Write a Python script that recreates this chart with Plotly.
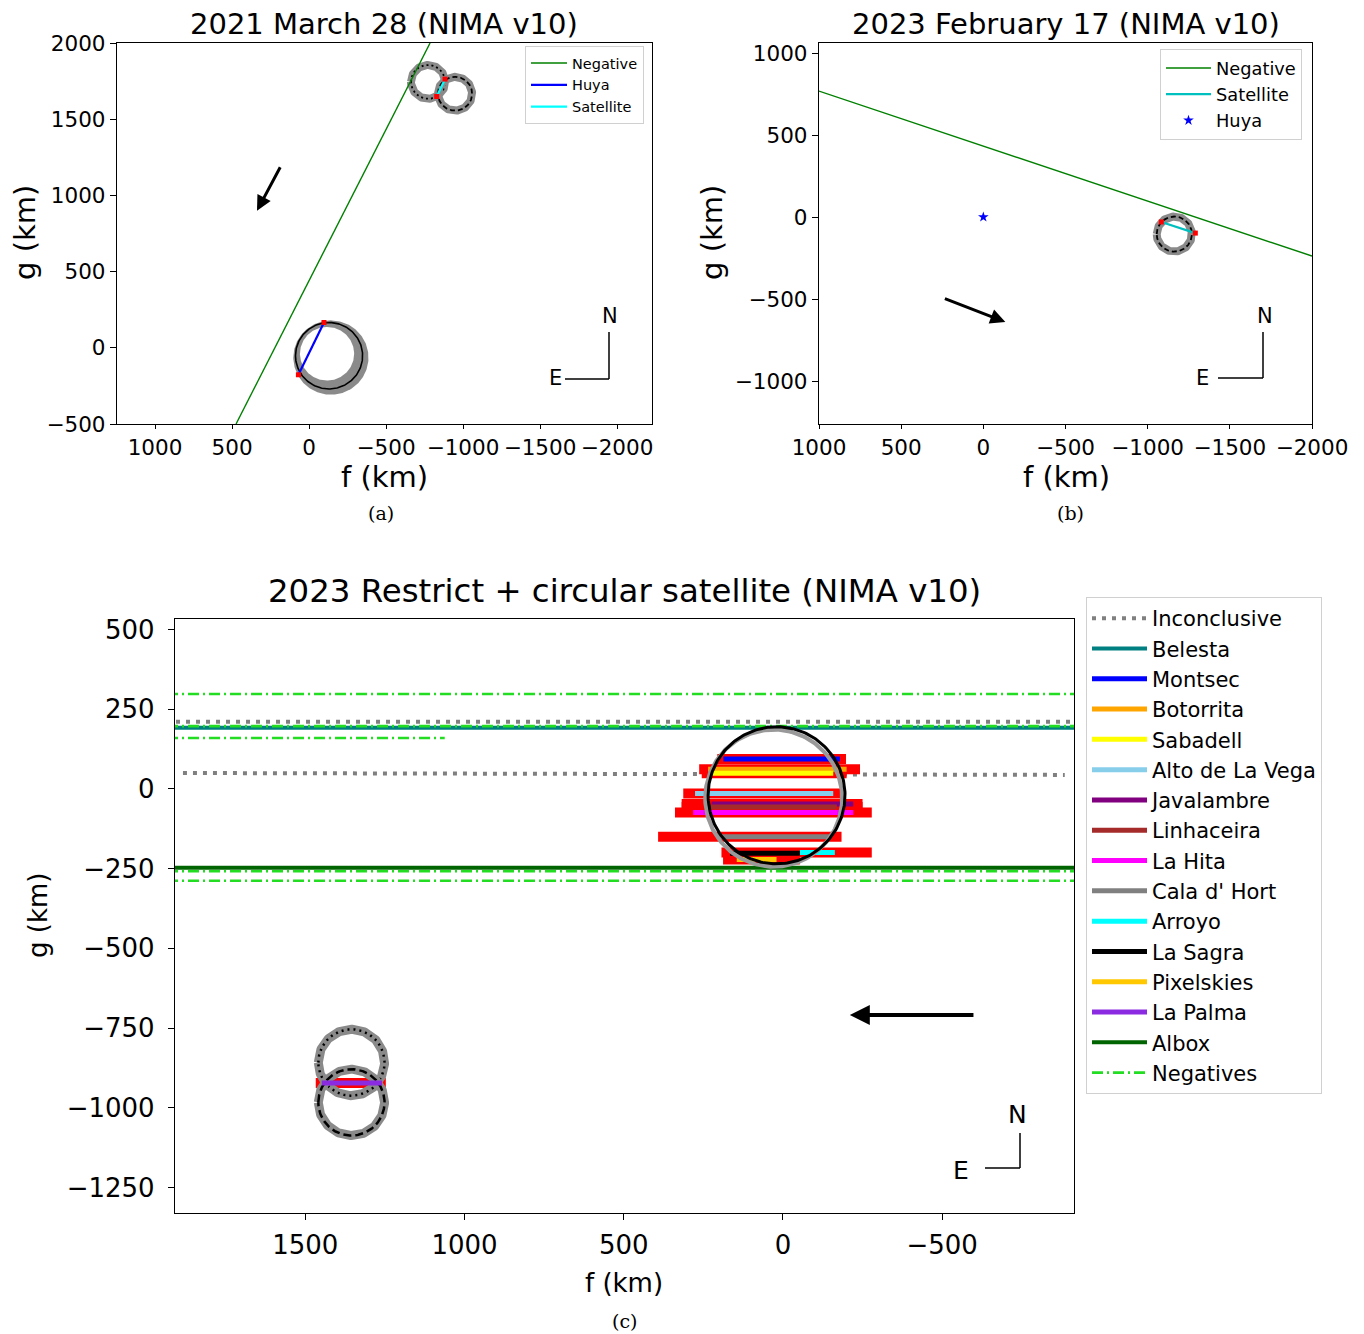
import numpy as np
import plotly.graph_objects as go

W, H = 1364, 1334
FONT = "DejaVu Sans"

# ---------------- Panel (a): 2021 March 28 ----------------
a_neg_f = [474, -786]
a_neg_g = [-500, 2000]
a_huya_chord_f = [-97, 69]
a_huya_chord_g = [166, -177]
a_sat_chord_f = [-829, -883]
a_sat_chord_g = [1649, 1763]
a_huya_circle = (-130, -52, 218)          # f, g, radius
a_huya_band_outer = (-142, -64, 244)
a_huya_band_inner = (-117, -39, 176)
a_sat_dotted = (-773, 1745, 111)
a_sat_dashed = (-948, 1667, 111)
a_arrow_tail = (182, 1194)
a_arrow_head = (338, 899)
a_xticks = [1000, 500, 0, -500, -1000, -1500, -2000]
a_yticks = [-500, 0, 500, 1000, 1500, 2000]

# ---------------- Panel (b): 2023 February 17 ----------------
b_neg_f = [1000, -2000]
b_neg_g = [768, -238]
b_huya_f = [0]
b_huya_g = [0]
b_sat_chord_f = [-1083, -1290]
b_sat_chord_g = [-30, -98]
b_sat_circle = (-1162, -104, 107)
b_arrow_tail = (243, -494)
b_arrow_head = (-134, -640)
b_xticks = [1000, 500, 0, -500, -1000, -1500, -2000]
b_yticks = [-1000, -500, 0, 500, 1000]

# ---------------- Panel (c): 2023 restrict ----------------
c_inconcl_f = [[2000, -1000], [1884, -885]]
c_inconcl_g = [[211, 211], [50, 44]]
c_neg_f = [[2000, -1000], [2000, -1000], [2000, 1062], [2000, -1000], [2000, -1000]]
c_neg_g = [298, 197, 160, -258, -288]
c_belesta_g = 192
c_albox_g = -247

chord_names = ["Montsec", "Botorrita", "Sabadell", "Alto de La Vega", "Javalambre",
               "Linhaceira", "La Hita", "Cala d' Hort", "Arroyo", "La Sagra",
               "Pixelskies", "La Palma"]
chord_g = [94, 62, 49, -14, -47, -57, -74, -150, -199, -202, -221, -922]
chord_f1 = [187, 235, 229, 276, 224, 240, 282, 208, -53, 166, 145, 1448]
chord_f2 = [-179, -200, -158, -158, -221, -169, -221, -148, -163, -53, 20, 1259]
err_f1 = [206, 263, 255, 313, 318, 318, 339, 392, 193, None, 188, 1467]
err_f2 = [-198, -242, -200, -184, -250, -250, -279, -184, -279, None, -53, 1247]
chord_colors = ["#0000ff", "#ffa500", "#ffff00", "#87ceeb", "#800080", "#a52a2a",
                "#ff00ff", "#808080", "#00ffff", "#000000", "#ffc800", "#8a2be2"]

c_main_circle = (20, -20, 215)
c_sat_dotted = (1355, -858, 104)
c_sat_dashed = (1355, -983, 104)
c_arrow_tail = (-603, -709)
c_arrow_head = (-210, -709)
c_xticks = [1500, 1000, 500, 0, -500]
c_yticks = [-1250, -1000, -750, -500, -250, 0, 250, 500]

legend_c_order = ["Inconclusive", "Belesta", "Montsec", "Botorrita", "Sabadell",
                  "Alto de La Vega", "Javalambre", "Linhaceira", "La Hita",
                  "Cala d' Hort", "Arroyo", "La Sagra", "Pixelskies", "La Palma",
                  "Albox", "Negatives"]


def circ(c, n=241):
    fc, gc, r = c
    t = np.linspace(0, 2 * np.pi, n)
    return (fc + r * np.cos(t)).tolist(), (gc + r * np.sin(t)).tolist()


def lab(v):
    return str(v).replace("-", "\u2212")


fig = go.Figure()

# ===== panel (a) traces =====
fx, fy = circ(a_huya_band_outer)
fig.add_trace(go.Scatter(x=fx, y=fy, fill="toself", fillcolor="#8a8a8a", mode="lines",
                         line=dict(width=0, color="#8a8a8a"), showlegend=False, hoverinfo="skip"))
fx, fy = circ(a_huya_band_inner)
fig.add_trace(go.Scatter(x=fx, y=fy, fill="toself", fillcolor="white", mode="lines",
                         line=dict(width=0, color="white"), showlegend=False, hoverinfo="skip"))
fx, fy = circ(a_huya_circle)
fig.add_trace(go.Scatter(x=fx, y=fy, mode="lines", line=dict(width=1.6, color="black"),
                         showlegend=False, hoverinfo="skip"))
for c, dash in [(a_sat_dotted, "2px,3px"), (a_sat_dashed, "5px,3px")]:
    fx, fy = circ(c)
    fig.add_trace(go.Scatter(x=fx, y=fy, mode="lines", line=dict(width=8, color="#8a8a8a"),
                             showlegend=False, hoverinfo="skip"))
    fig.add_trace(go.Scatter(x=fx, y=fy, mode="lines", line=dict(width=1.8, color="black", dash=dash),
                             showlegend=False, hoverinfo="skip"))
fig.add_trace(go.Scatter(x=a_neg_f, y=a_neg_g, mode="lines", name="Negative",
                         line=dict(width=1.4, color="green"), legend="legend"))
fig.add_trace(go.Scatter(x=a_huya_chord_f, y=a_huya_chord_g, mode="lines", name="Huya",
                         line=dict(width=2.2, color="#0000ff"), legend="legend"))
fig.add_trace(go.Scatter(x=a_sat_chord_f, y=a_sat_chord_g, mode="lines", name="Satellite",
                         line=dict(width=2.2, color="#00ffff"), legend="legend"))
fig.add_trace(go.Scatter(x=a_huya_chord_f + a_sat_chord_f, y=a_huya_chord_g + a_sat_chord_g,
                         mode="markers", marker=dict(symbol="square", size=5, color="red"),
                         showlegend=False, hoverinfo="skip"))

# ===== panel (b) traces =====
fx, fy = circ(b_sat_circle)
fig.add_trace(go.Scatter(x=fx, y=fy, mode="lines", line=dict(width=8, color="#8a8a8a"),
                         xaxis="x2", yaxis="y2", showlegend=False, hoverinfo="skip"))
fig.add_trace(go.Scatter(x=fx, y=fy, mode="lines", line=dict(width=1.8, color="black", dash="5px,3px"),
                         xaxis="x2", yaxis="y2", showlegend=False, hoverinfo="skip"))
fig.add_trace(go.Scatter(x=b_neg_f, y=b_neg_g, mode="lines", name="Negative",
                         line=dict(width=1.4, color="green"), xaxis="x2", yaxis="y2", legend="legend2"))
fig.add_trace(go.Scatter(x=b_sat_chord_f, y=b_sat_chord_g, mode="lines", name="Satellite",
                         line=dict(width=2.2, color="#00bfbf"), xaxis="x2", yaxis="y2", legend="legend2"))
fig.add_trace(go.Scatter(x=b_huya_f, y=b_huya_g, mode="markers", name="Huya",
                         marker=dict(symbol="star", size=8, color="#0000ff"),
                         xaxis="x2", yaxis="y2", legend="legend2"))
fig.add_trace(go.Scatter(x=b_sat_chord_f, y=b_sat_chord_g, mode="markers",
                         marker=dict(symbol="square", size=5, color="red"),
                         xaxis="x2", yaxis="y2", showlegend=False, hoverinfo="skip"))

# ===== panel (c) traces =====
C = dict(xaxis="x3", yaxis="y3", legend="legend3")
rank = {n: i for i, n in enumerate(legend_c_order)}

ix, iy = [], []
for f, g in zip(c_inconcl_f, c_inconcl_g):
    ix += f + [None]
    iy += g + [None]
fig.add_trace(go.Scatter(x=ix, y=iy, mode="lines", name="Inconclusive", legendrank=rank["Inconclusive"],
                         line=dict(width=4, color="#808080", dash="4px,6px"), **C))
fig.add_trace(go.Scatter(x=[2000, -1000], y=[c_belesta_g, c_belesta_g], mode="lines", name="Belesta",
                         legendrank=rank["Belesta"], line=dict(width=4, color="#008080"), **C))
fig.add_trace(go.Scatter(x=[2000, -1000], y=[c_albox_g, c_albox_g], mode="lines", name="Albox",
                         legendrank=rank["Albox"], line=dict(width=4, color="#006400"), **C))
nx, ny = [], []
for f, g in zip(c_neg_f, c_neg_g):
    nx += f + [None]
    ny += [g, g, None]
fig.add_trace(go.Scatter(x=nx, y=ny, mode="lines", name="Negatives", legendrank=rank["Negatives"],
                         line=dict(width=2.6, color="#22dd22", dash="11px,4px,2px,4px"), **C))

# red uncertainty bars
for e1, e2, g in zip(err_f1, err_f2, chord_g):
    if e1 is None:
        continue
    fig.add_trace(go.Scatter(x=[e1, e2], y=[g, g], mode="lines", line=dict(width=10, color="#ff0000"),
                             showlegend=False, hoverinfo="skip", xaxis="x3", yaxis="y3"))

# satellite circles (bottom left)
for c, dash in [(c_sat_dotted, "2px,4px"), (c_sat_dashed, "8px,4px")]:
    fx, fy = circ(c)
    fig.add_trace(go.Scatter(x=fx, y=fy, mode="lines", line=dict(width=9, color="#8a8a8a"),
                             showlegend=False, hoverinfo="skip", xaxis="x3", yaxis="y3"))
    fig.add_trace(go.Scatter(x=fx, y=fy, mode="lines", line=dict(width=2.5, color="black", dash=dash),
                             showlegend=False, hoverinfo="skip", xaxis="x3", yaxis="y3"))

for n, g, f1, f2, col in zip(chord_names, chord_g, chord_f1, chord_f2, chord_colors):
    fig.add_trace(go.Scatter(x=[f1, f2], y=[g, g], mode="lines", name=n, legendrank=rank[n],
                             line=dict(width=5, color=col), **C))

# main circle with grey shadow
fc, gc, r = c_main_circle
fx, fy = circ((fc + 9, gc - 9, r))
fig.add_trace(go.Scatter(x=fx, y=fy, mode="lines", line=dict(width=4, color="#999999"),
                         showlegend=False, hoverinfo="skip", xaxis="x3", yaxis="y3"))
fx, fy = circ(c_main_circle)
fig.add_trace(go.Scatter(x=fx, y=fy, mode="lines", line=dict(width=3, color="black"),
                         showlegend=False, hoverinfo="skip", xaxis="x3", yaxis="y3"))


def px(x):
    return x / W


def py(y):
    return 1 - y / H


def axis(domain, rng, ticks, fs, anchor, ticklen=6, standoff=0):
    return dict(domain=domain, range=rng, tickvals=ticks, ticktext=[lab(t) for t in ticks],
                showline=True, mirror=True, linecolor="black", linewidth=1.3,
                ticks="outside", ticklen=ticklen, tickwidth=1.3, tickcolor="black",
                showgrid=False, zeroline=False, anchor=anchor, automargin=False,
                tickangle=0, ticklabelstandoff=standoff,
                tickfont=dict(size=fs, color="black", family=FONT))


layout = dict(
    template="none",
    width=W, height=H, margin=dict(l=0, r=0, t=0, b=0, autoexpand=False),
    paper_bgcolor="white", plot_bgcolor="white", showlegend=True,
    xaxis=axis([px(117), px(652)], [1247, -2227], a_xticks, 21.5, "y", ticklen=4),
    yaxis=axis([py(424), py(43)], [-500, 2000], a_yticks, 21.5, "x"),
    xaxis2=axis([px(819), px(1312)], [1000, -2000], b_xticks, 21.5, "y2", ticklen=4),
    yaxis2=axis([py(424), py(43)], [-1262, 1061], b_yticks, 21.5, "x2"),
    xaxis3=axis([px(175), px(1074)], [1909, -914], c_xticks, 26, "y3", standoff=3),
    yaxis3=axis([py(1213), py(619)], [-1330, 533], c_yticks, 26, "x3", standoff=8),
    legend=dict(x=px(525), y=py(46), xanchor="left", yanchor="top", bgcolor="white",
                bordercolor="#d0d0d0", borderwidth=1, font=dict(size=14.5, family=FONT, color="black"),
                itemwidth=36),
    legend2=dict(x=px(1160), y=py(49), xanchor="left", yanchor="top", bgcolor="white",
                 bordercolor="#d0d0d0", borderwidth=1, font=dict(size=17.8, family=FONT, color="black"),
                 itemwidth=45),
    legend3=dict(x=px(1086), y=py(597), xanchor="left", yanchor="top", bgcolor="white",
                 bordercolor="#d0d0d0", borderwidth=1, font=dict(size=21, family=FONT, color="black"),
                 itemwidth=55),
)
fig.update_layout(**layout)

ann = []


def text(x, y, s, size, family=FONT, angle=0):
    ann.append(dict(x=px(x), y=py(y), xref="paper", yref="paper", text=s, showarrow=False,
                    xanchor="center", yanchor="middle", textangle=angle,
                    font=dict(size=size, family=family, color="black")))


text(384, 24, "2021 March 28 (NIMA v10)", 29)
text(1066, 24, "2023 February 17 (NIMA v10)", 29)
text(624, 591, "2023 Restrict + circular satellite (NIMA v10)", 32.4)
text(384, 477, "f (km)", 29)
text(1066, 477, "f (km)", 29)
text(624, 1283, "f (km)", 26)
text(25, 233, "g (km)", 29, angle=-90)
text(712, 233, "g (km)", 29, angle=-90)
text(38, 916, "g (km)", 26, angle=-90)
text(381, 513, "(a)", 19, family="DejaVu Serif")
text(1070, 513, "(b)", 19, family="DejaVu Serif")
text(624, 1321, "(c)", 19, family="DejaVu Serif")

# compass roses (text)
text(610, 316, "N", 21)
text(555, 378, "E", 21)
text(1265, 316, "N", 21)
text(1202, 378, "E", 21)
text(1017, 1114, "N", 25)
text(961, 1170, "E", 25)

# motion arrows
for (tail, head, xr, yr, w) in [(a_arrow_tail, a_arrow_head, "x", "y", 3),
                                (b_arrow_tail, b_arrow_head, "x2", "y2", 3),
                                (c_arrow_tail, c_arrow_head, "x3", "y3", 4)]:
    ann.append(dict(x=head[0], y=head[1], ax=tail[0], ay=tail[1], xref=xr, yref=yr,
                    axref=xr, ayref=yr, text="", showarrow=True, arrowhead=2,
                    arrowsize=1, arrowwidth=w, arrowcolor="black"))
fig.update_layout(annotations=ann)

# compass lines (paper pixel positions)
shapes = []
for (xv, y0, y1, x0) in [(609, 332, 379, 565), (1263, 332, 378, 1218), (1020, 1133, 1168, 985)]:
    shapes.append(dict(type="line", xref="paper", yref="paper", x0=px(xv), x1=px(xv),
                       y0=py(y0), y1=py(y1), line=dict(color="black", width=1.5)))
    shapes.append(dict(type="line", xref="paper", yref="paper", x0=px(x0), x1=px(xv),
                       y0=py(y1), y1=py(y1), line=dict(color="black", width=1.5)))
fig.update_layout(shapes=shapes)

fig.write_html("out.html")
